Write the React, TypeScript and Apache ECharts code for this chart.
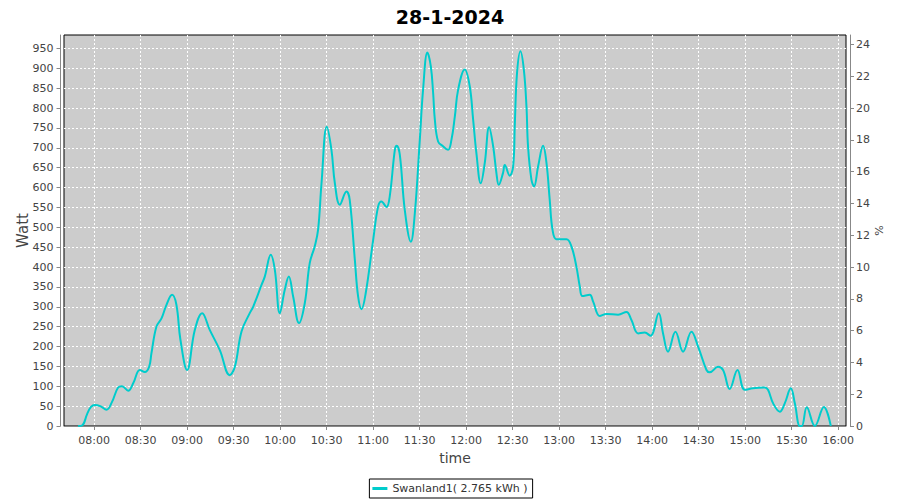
import React, { useEffect, useRef } from "react";
import * as echarts from "echarts";

const TITLE = "28-1-2024";
const SERIES_NAME = "Swanland1( 2.765 kWh )";

// minutes since midnight
const times = [469.7, 472.5, 475.5, 478, 480.5, 484, 488, 491.5, 495.5, 498, 502, 505.3, 509.5, 512.7, 515.5, 517, 520.2, 523.5, 526.7, 530.3, 533.1, 535.7, 540, 545, 549.7, 554.6, 561.1, 567.5, 570.8, 575.1, 580.4, 582.6, 588, 590.1, 594, 596.6, 599.8, 603, 605.6, 608.4, 612.2, 615.9, 619.1, 622.3, 624.5, 626.7, 630.1, 633.1, 635.3, 638.5, 642.8, 644.9, 648.2, 650.3, 652.5, 655.2, 660, 663.2, 665.4, 668.6, 670.7, 674, 675.2, 677.2, 680.4, 684.3, 686.9, 690.1, 692.2, 695, 697.2, 698.7, 699.8, 701.9, 705.1, 708.3, 710.5, 712.7, 714.8, 719.1, 722.3, 724.5, 726.6, 729.4, 732, 734.8, 737.4, 739.5, 741, 743.8, 744.9, 748.1, 750.3, 751.4, 752.8, 755, 757.2, 758.9, 759.9, 762.1, 763.8, 766.4, 769.6, 771.8, 773.9, 775.7, 778.2, 784.7, 787.9, 791.1, 793.3, 795, 799.7, 801.9, 806.2, 810.5, 818, 823.4, 826.6, 830.9, 835.2, 838.9, 844.2, 847, 850.2, 855, 859.9, 865.3, 869.6, 875, 877.1, 882.5, 885.7, 890, 895, 899.7, 905, 912.6, 914.7, 918, 922.3, 925.5, 929.4, 932, 935.2, 936.5, 939.7, 944.9, 950.7, 955.2];

const watts = [0, 2, 30, 48, 53, 50, 41, 60, 97, 100, 89, 108, 141, 136, 149, 183, 250, 271, 305, 330, 305, 217, 141, 242, 284, 242, 191, 128, 149, 238, 284, 300, 355, 376, 431, 393, 284, 343, 376, 326, 259, 309, 410, 452, 494, 611, 753, 695, 611, 557, 590, 569, 418, 326, 294, 334, 468, 552, 565, 551, 578, 695, 705, 683, 544, 464, 536, 720, 846, 940, 905, 838, 771, 716, 704, 695, 720, 779, 846, 897, 855, 771, 687, 611, 662, 752, 704, 637, 607, 637, 657, 630, 653, 762, 888, 943, 897, 804, 704, 620, 603, 653, 705, 662, 569, 494, 470, 470, 452, 401, 351, 327, 330, 313, 277, 282, 280, 287, 267, 233, 235, 227, 284, 233, 187, 237, 187, 237, 200, 141, 135, 149, 141, 93, 141, 91, 95, 97, 91, 57, 36, 57, 95, 57, 0, 0, 47, 0, 48, 0];

const xTicks = [480, 510, 540, 570, 600, 630, 660, 690, 720, 750, 780, 810, 840, 870, 900, 930, 960];
const wattTicks = [0, 50, 100, 150, 200, 250, 300, 350, 400, 450, 500, 550, 600, 650, 700, 750, 800, 850, 900, 950];
const pctTicks = [0, 2, 4, 6, 8, 10, 12, 14, 16, 18, 20, 22, 24];

const FONT = "DejaVu Sans";

function fmtTime(v: number) {
  const h = Math.floor(v / 60);
  const m = Math.round(v - h * 60);
  return String(h).padStart(2, "0") + ":" + String(m).padStart(2, "0");
}

export default function App() {
  const ref = useRef<HTMLDivElement>(null);
  useEffect(() => {
    document.body.style.margin = "0";
    const chart = echarts.init(ref.current!, null, { renderer: "svg" });
    const axisLine = { show: true, lineStyle: { color: "#888888", width: 1 } };
    const label = { color: "#444444", fontSize: 11, fontFamily: FONT };
    chart.setOption({
      animation: false,
      backgroundColor: "#ffffff",
      title: {
        text: TITLE,
        left: "center",
        top: 2,
        textStyle: { fontFamily: FONT, fontSize: 19, fontWeight: "bold", color: "#000000" },
      },
      legend: {
        bottom: 2,
        left: "center",
        icon: "rect",
        itemWidth: 15,
        itemHeight: 3,
        borderColor: "#000000",
        borderWidth: 1,
        padding: [4, 5, 4, 3],
        backgroundColor: "#ffffff",
        textStyle: { fontFamily: FONT, fontSize: 11, color: "#333333" },
        data: [SERIES_NAME],
      },
      grid: {
        left: 64,
        right: 54,
        top: 35,
        bottom: 74,
        show: true,
        backgroundColor: "#cccccc",
        borderColor: "#000000",
        borderWidth: 1,
      },
      xAxis: {
        type: "value",
        min: 460.6,
        max: 965,
        offset: 3,
        name: "time",
        nameLocation: "middle",
        nameGap: 22,
        nameMoveOverlap: false,
        nameTextStyle: { fontFamily: FONT, fontSize: 14, color: "#444444" },
        axisLine,
        axisTick: { show: true, length: 4, lineStyle: { color: "#888888" }, customValues: xTicks },
        axisLabel: { ...label, margin: 6, customValues: xTicks, formatter: (v: number) => fmtTime(v) },
        splitLine: { show: true, lineStyle: { color: "#ffffff", width: 1, type: [2, 2] } },
      },
      yAxis: [
        {
          type: "value",
          min: 0,
          max: 984,
          offset: 3.5,
          position: "left",
          name: "Watt",
          nameLocation: "middle",
          nameGap: 30,
          nameMoveOverlap: false,
          nameTextStyle: { fontFamily: FONT, fontSize: 15, color: "#444444" },
          axisLine,
          axisTick: { show: true, length: 4, lineStyle: { color: "#888888" }, customValues: wattTicks },
          axisLabel: { ...label, margin: 7, customValues: wattTicks },
          splitLine: { show: true, lineStyle: { color: "#ffffff", width: 1, type: [2, 2] } },
        },
        {
          type: "value",
          min: 0,
          max: 24.6,
          offset: 4,
          position: "right",
          name: "%",
          nameLocation: "middle",
          nameGap: 24,
          nameMoveOverlap: false,
          nameTextStyle: { fontFamily: FONT, fontSize: 11, color: "#444444" },
          axisLine,
          axisTick: { show: true, length: 4, lineStyle: { color: "#888888" }, customValues: pctTicks },
          axisLabel: { ...label, margin: 6, customValues: pctTicks },
          splitLine: { show: false },
        },
      ],
      series: [
        {
          name: SERIES_NAME,
          type: "line",
          yAxisIndex: 0,
          data: times.map((t, i) => [t, watts[i]]),
          smooth: 0.4,
          showSymbol: false,
          symbol: "none",
          color: "#00cccc",
          lineStyle: { color: "#00cccc", width: 2 },
        },
      ],
    });
    return () => chart.dispose();
  }, []);
  return <div ref={ref} style={{ width: 900, height: 500 }} />;
}
